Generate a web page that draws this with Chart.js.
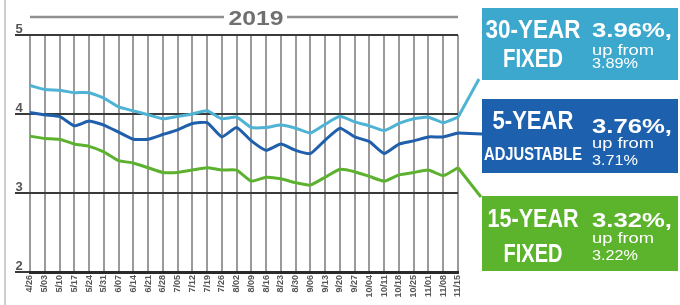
<!DOCTYPE html>
<html>
<head>
<meta charset="utf-8">
<script src="https://cdn.jsdelivr.net/npm/chart.js@4"></script>
<style>
  html, body { margin: 0; padding: 0; background: #fff; }
  #wrap { position: relative; width: 680px; height: 305px; }
</style>
</head>
<body>
<div id="wrap"><canvas id="rateChart" width="680" height="305"></canvas></div>
<script>
// weekly dates, 2019
const weeks = ['4/26', '5/03', '5/10', '5/17', '5/24', '5/31', '6/07', '6/14', '6/21', '6/28',
  '7/05', '7/12', '7/19', '7/26', '8/02', '8/09', '8/16', '8/23', '8/30', '9/06',
  '9/13', '9/20', '9/27', '10/04', '10/11', '10/18', '10/25', '11/01', '11/08', '11/15'];

const fixed30 = [4.36, 4.31, 4.30, 4.27, 4.27, 4.20, 4.09, 4.04, 3.99, 3.94,
  3.97, 4.00, 4.04, 3.94, 3.96, 3.83, 3.83, 3.86, 3.82, 3.76,
  3.87, 3.97, 3.90, 3.85, 3.79, 3.88, 3.94, 3.96, 3.89, 3.96];

const adj5 = [4.02, 3.99, 3.97, 3.85, 3.91, 3.86, 3.77, 3.68, 3.68, 3.74,
  3.80, 3.88, 3.89, 3.71, 3.83, 3.66, 3.54, 3.62, 3.54, 3.50,
  3.67, 3.82, 3.71, 3.65, 3.50, 3.62, 3.66, 3.71, 3.71, 3.76];

const fixed15 = [3.72, 3.69, 3.68, 3.62, 3.59, 3.52, 3.41, 3.38, 3.32, 3.26,
  3.26, 3.29, 3.32, 3.29, 3.29, 3.15, 3.20, 3.18, 3.13, 3.10,
  3.20, 3.30, 3.27, 3.21, 3.15, 3.23, 3.26, 3.29, 3.22, 3.32];

const yTicks = [2, 3, 4, 5];

// legend texts
const nameTop = ['30-YEAR', '5-YEAR', '15-YEAR'];
const nameBottom = ['FIXED', 'ADJUSTABLE', 'FIXED'];
const rateNow = ['3.96%,', '3.76%,', '3.32%,'];
const ratePrev = ['3.89%', '3.71%', '3.22%'];

const lineColors = ['#4fb3d5', '#1f5fab', '#5cb22e'];
const boxColors = ['#3ca8cd', '#1c60ae', '#5bb42c'];

// draw text squeezed/stretched to a given width
function fitText(ctx, text, x, y, w, font, align) {
  ctx.save();
  ctx.font = font;
  const m = ctx.measureText(text).width;
  const s = w / m;
  let x0 = x;
  if (align === 'center') x0 = x - w / 2;
  ctx.translate(x0, y);
  ctx.scale(s, 1);
  ctx.textAlign = 'left';
  ctx.textBaseline = 'alphabetic';
  ctx.fillText(text, 0, 0);
  ctx.restore();
}

const decorations = {
  id: 'decorations',
  afterDraw(chart) {
    const ctx = chart.ctx;
    const yScale = chart.scales.y;
    const area = chart.chartArea;

    // left frame line
    ctx.save();
    ctx.strokeStyle = '#cfcfcf';
    ctx.lineWidth = 2;
    ctx.beginPath();
    ctx.moveTo(5, 0);
    ctx.lineTo(5, 305);
    ctx.stroke();

    // title with rules
    ctx.strokeStyle = '#909090';
    ctx.lineWidth = 2.5;
    ctx.beginPath();
    ctx.moveTo(area.left, 17);
    ctx.lineTo(224, 17);
    ctx.moveTo(287, 17);
    ctx.lineTo(area.right, 17);
    ctx.stroke();
    ctx.fillStyle = '#707070';
    fitText(ctx, '2019', 256, 25, 55, 'bold 20px "Liberation Sans"', 'center');

    // y labels sitting on their grid lines
    ctx.fillStyle = '#555';
    ctx.font = 'bold 13px "Liberation Sans"';
    ctx.textAlign = 'center';
    ctx.textBaseline = 'alphabetic';
    yTicks.forEach(v => {
      ctx.fillText(String(v), 19, yScale.getPixelForValue(v) - 2);
    });

    // connectors from the last point to each box
    const ends = [[479, 79], [482, 134], [481, 197]];
    [0, 1, 2].forEach(i => {
      const pts = chart.getDatasetMeta(i).data;
      const p = pts[pts.length - 1];
      ctx.strokeStyle = lineColors[i];
      ctx.lineWidth = 3;
      ctx.beginPath();
      ctx.moveTo(p.x, p.y);
      ctx.lineTo(ends[i][0], ends[i][1]);
      ctx.stroke();
    });

    // legend boxes
    const boxes = [
      { top: 8, h: 72, b1: 38, w1: 95, b2: 67, w2: 60, f2: 26, r: 37, u: 55, q: 68 },
      { top: 99, h: 74, b1: 129, w1: 81, b2: 160, w2: 98, f2: 19, r: 133, u: 148, q: 165 },
      { top: 196, h: 75, b1: 227, w1: 91, b2: 262, w2: 59, f2: 26, r: 227, u: 243, q: 260 }
    ];
    boxes.forEach((b, i) => {
      ctx.fillStyle = boxColors[i];
      ctx.fillRect(482, b.top, 196, b.h);
      ctx.fillStyle = '#fff';
      fitText(ctx, nameTop[i], 533, b.b1, b.w1, 'bold 25px "Liberation Sans"', 'center');
      fitText(ctx, nameBottom[i], 533, b.b2, b.w2, 'bold ' + b.f2 + 'px "Liberation Sans"', 'center');
      fitText(ctx, rateNow[i], 592, b.r, 80, 'bold 20px "Liberation Sans"', 'left');
      fitText(ctx, 'up from', 592, b.u, 62, '14px "Liberation Sans"', 'left');
      fitText(ctx, ratePrev[i], 592, b.q, 46, '14px "Liberation Sans"', 'left');
    });
    ctx.restore();
  }
};

const ctx = document.getElementById('rateChart').getContext('2d');
new Chart(ctx, {
  type: 'line',
  data: {
    labels: weeks,
    datasets: [
      { label: '30-year fixed', data: fixed30, borderColor: lineColors[0] },
      { label: '5-year adjustable', data: adj5, borderColor: lineColors[1] },
      { label: '15-year fixed', data: fixed15, borderColor: lineColors[2] }
    ]
  },
  options: {
    responsive: false,
    animation: false,
    layout: { padding: { top: 35, right: 222, left: 0, bottom: 0 } },
    elements: {
      line: { borderWidth: 3, tension: 0.15, fill: false },
      point: { radius: 0 }
    },
    plugins: {
      legend: { display: false },
      tooltip: { enabled: false }
    },
    scales: {
      x: {
        offset: false,
        grid: { color: '#9a9a9a', lineWidth: 2, drawTicks: false },
        border: { display: true, color: '#2a2a2a', width: 3 },
        ticks: {
          autoSkip: false,
          maxRotation: 90,
          minRotation: 90,
          padding: 3,
          color: '#555',
          font: { family: 'Liberation Sans', size: 9, weight: 'bold' }
        },
        afterFit(scale) { scale.height = 33; }
      },
      y: {
        min: 2,
        max: 5,
        grid: { color: '#3a3a3a', lineWidth: 2, drawTicks: true, tickLength: 15 },
        border: { display: false },
        ticks: { stepSize: 1, display: false },
        afterFit(scale) { scale.width = 30; }
      }
    }
  },
  plugins: [decorations]
});
</script>
</body>
</html>
